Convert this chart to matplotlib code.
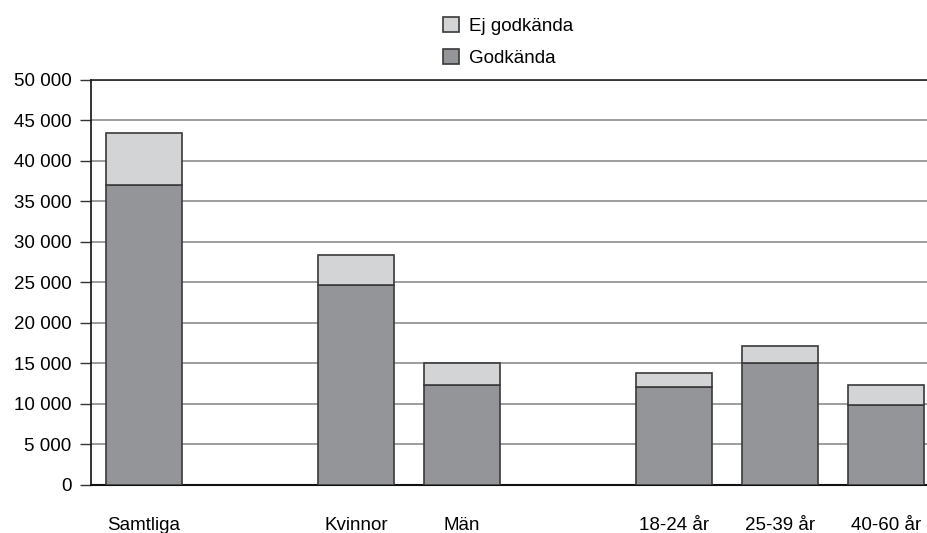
import matplotlib
matplotlib.use('Agg')
import matplotlib.pyplot as plt
import numpy as np

# data
categories = ['Samtliga', 'Kvinnor', 'Män', '18-24 år', '25-39 år', '40-60 år']
godkanda = [36950, 24650, 12300, 12080, 15000, 9830]
ej_godkanda = [6500, 3650, 2700, 1690, 2200, 2470]
y_ticks = [0, 5000, 10000, 15000, 20000, 25000, 30000, 35000, 40000, 45000, 50000]

# slot layout: empty slots between the groups
slots = [0, 2, 3, 5, 6, 7]

plt.rcParams['font.family'] = ['Liberation Sans', 'DejaVu Sans']

fig = plt.figure(figsize=(9.27, 5.33), dpi=100)
ax = fig.add_axes([91 / 927, 0.0901, 848 / 927, 0.7607])

dark = '#949598'
light = '#d3d4d6'
edge = '#3a3a3a'

b1 = ax.bar(slots, godkanda, width=0.71, color=dark, edgecolor=edge, linewidth=1.2,
            label='Godkända', zorder=3)
b2 = ax.bar(slots, ej_godkanda, width=0.71, bottom=godkanda, color=light, edgecolor=edge,
            linewidth=1.2, label='Ej godkända', zorder=3)

ax.set_xlim(-0.5, 7.5)
ax.set_ylim(0, 50000)
ax.set_yticks(y_ticks)
ax.set_yticklabels(['{:,}'.format(v).replace(',', ' ') for v in y_ticks], fontsize=13.5)
ax.set_xticks(slots)
ax.set_xticklabels(categories, fontsize=13.5)
ax.tick_params(axis='x', length=0, pad=23)
ax.tick_params(axis='y', length=8, width=1, color='#333333', pad=6, direction='out')

ax.grid(axis='y', color='#8c8c8c', linewidth=1.2, zorder=0)
ax.set_axisbelow(True)
ax.spines['right'].set_visible(False)
ax.spines['top'].set_color('#222222')
ax.spines['top'].set_linewidth(1.2)
ax.spines['left'].set_color('#111111')
ax.spines['left'].set_linewidth(1.2)
ax.spines['bottom'].set_color('#111111')
ax.spines['bottom'].set_linewidth(1.5)

fig.legend([b2, b1], ['Ej godkända', 'Godkända'], loc='upper left',
           bbox_to_anchor=(426 / 927, 1.0), frameon=False, fontsize=13.5,
           handlelength=0.85, handleheight=0.85, handletextpad=0.55, labelspacing=0.75)

fig.savefig('out.png', dpi=100)
